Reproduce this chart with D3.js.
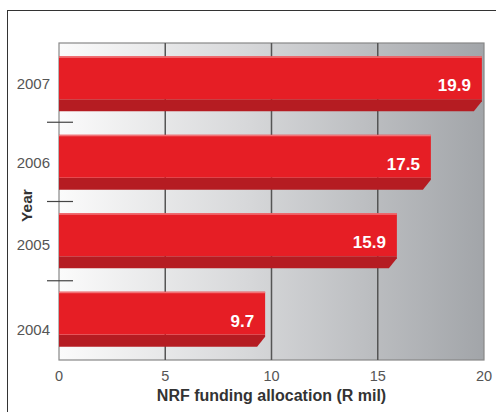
<!DOCTYPE html>
<html><head><meta charset="utf-8">
<script src="https://cdn.jsdelivr.net/npm/d3@7"></script>
<style>body{margin:0;background:#fff;} svg{display:block;font-family:"Liberation Sans",Arial,sans-serif;}</style>
</head><body>
<script>
const years = ["2007","2006","2005","2004"];
const values = [19.9, 17.5, 15.9, 9.7];
const xTicks = [0,5,10,15,20];
const xTitle = "NRF funding allocation (R mil)";
const yTitle = "Year";

const W=496,H=412;
const m={left:59,right:12,top:43,bottom:52};
const svg=d3.select("body").append("svg").attr("width",W).attr("height",H);
const defs=svg.append("defs");
const bg=defs.append("linearGradient").attr("id","bg").attr("x1","0").attr("x2","1").attr("y1","0").attr("y2","0");
bg.append("stop").attr("offset","0").attr("stop-color","#fbfbfb");
bg.append("stop").attr("offset","0.45").attr("stop-color","#d6d7d9");
bg.append("stop").attr("offset","1").attr("stop-color","#a2a5a9");

svg.append("rect").attr("x",7.5).attr("y",10.5).attr("width",W).attr("height",H).attr("fill","none").attr("stroke","#333").attr("stroke-width",1);

const x=d3.scaleLinear().domain([0,20]).range([m.left,W-m.right]);
const y=d3.scaleBand().domain(years).range([m.top,H-m.bottom]).paddingInner(0.3).paddingOuter(0.17);
const yb=d3.scaleBand().domain(years).range([m.top,H-m.bottom]);

svg.append("rect").attr("x",x(0)).attr("y",m.top).attr("width",x(20)-x(0)).attr("height",H-m.bottom-m.top)
  .attr("fill","url(#bg)").attr("stroke","#888").attr("stroke-width",1.2);

svg.append("g").selectAll("line").data(xTicks.slice(1,-1)).join("line")
  .attr("x1",d=>x(d)).attr("x2",d=>x(d)).attr("y1",m.top).attr("y2",H-m.bottom)
  .attr("stroke","#555").attr("stroke-width",1.5);

svg.append("g").selectAll("line").data(years.slice(1)).join("line")
  .attr("x1",47).attr("x2",73).attr("y1",d=>yb(d)).attr("y2",d=>yb(d))
  .attr("stroke","#444").attr("stroke-width",1.2);

const shade=12, ch=8;
const bars=svg.append("g").selectAll("g").data(years.map((k,i)=>({k,v:values[i]}))).join("g");
bars.append("path").attr("fill","#b51c22").attr("d",d=>{
  const x0=x(0),x1=x(d.v),y0=y(d.k),y1=y0+y.bandwidth();
  return `M${x0},${y1-shade}L${x1},${y1-shade}L${x1},${y1-shade+2}L${x1-ch},${y1}L${x0},${y1}Z`;
});
bars.append("rect").attr("x",x(0)).attr("y",d=>y(d.k)).attr("width",d=>x(d.v)-x(0)).attr("height",y.bandwidth()-shade)
  .attr("fill","#e61e25");
bars.append("rect").attr("x",x(0)).attr("y",d=>y(d.k)).attr("width",d=>x(d.v)-x(0)).attr("height",1.5)
  .attr("fill","#f27377");
bars.append("text").attr("x",d=>x(d.v)-11).attr("y",d=>y(d.k)+y.bandwidth()/2+3).attr("text-anchor","end")
  .attr("dominant-baseline","middle").attr("fill","#fff").attr("font-weight","bold").attr("font-size",17)
  .text(d=>d.v.toFixed(1));

svg.append("g").selectAll("text").data(years).join("text")
  .attr("x",50).attr("y",(d,i)=>yb(d)+yb.bandwidth()/2+2+(i===3?9:(i===2?3:0))).attr("text-anchor","end").attr("dominant-baseline","middle")
  .attr("fill","#555").attr("font-size",15).text(d=>d);

svg.append("g").selectAll("text").data(xTicks).join("text")
  .attr("x",d=>x(d)).attr("y",377).attr("text-anchor","middle").attr("dominant-baseline","middle")
  .attr("fill","#555").attr("font-size",14.5).text(d=>d);

svg.append("text").attr("x",(x(0)+x(20))/2).attr("y",397).attr("text-anchor","middle").attr("dominant-baseline","middle")
  .attr("fill","#333").attr("font-weight","bold").attr("font-size",16).text(xTitle);

svg.append("text").attr("transform",`translate(28,${(m.top+H-m.bottom)/2+4}) rotate(-90)`).attr("text-anchor","middle")
  .attr("dominant-baseline","middle").attr("fill","#333").attr("font-weight","bold").attr("font-size",15.5).text(yTitle);
</script>
</body></html>
